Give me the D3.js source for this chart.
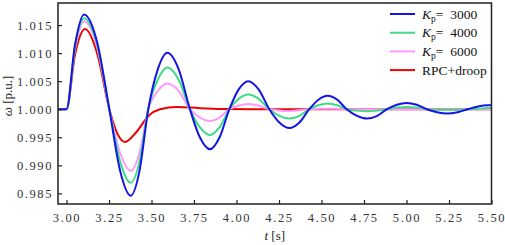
<!DOCTYPE html>
<html><head><meta charset="utf-8">
<script src="https://cdn.jsdelivr.net/npm/d3@7/dist/d3.min.js"></script>
<style>
body{margin:0;background:#fff;}
svg{display:block;}
svg text{font-family:"Liberation Serif","Times New Roman",Times,serif !important;}
</style></head>
<body>
<svg id="c" width="505" height="245"></svg>
<script>
// ---- data ----
const xTicks = [3.00,3.25,3.50,3.75,4.00,4.25,4.50,4.75,5.00,5.25,5.50];
const yTicks = [0.985,0.990,0.995,1.000,1.005,1.010,1.015];

const timeKp = [2.95,3.00,3.05,3.103,3.18,3.252,3.315,3.378,3.43,3.48,3.537,3.593,3.66,3.726,3.785,3.844,3.90,3.958,4.013,4.069,4.13,4.193,4.252,4.311,4.37,4.428,4.482,4.536,4.592,4.648,4.709,4.770,4.828,4.885,4.943,5.001,5.06,5.12,5.18,5.240,5.30,5.36,5.42,5.48,5.50];

const kp3000 = [1.0000,1.0000,1.0115,1.0169,1.0120,1.0000,0.9891,0.9846,0.9891,0.9998,1.0071,1.01005,1.0071,1.0000,0.99495,0.99286,0.99495,1.0000,1.00354,1.0050,1.00354,1.0000,0.99764,0.99666,0.99764,1.0000,1.0017,1.0024,1.0017,1.0000,0.99883,0.99834,0.99883,1.0000,1.0008,1.00113,1.0008,1.0000,0.99946,0.99923,0.99946,1.0000,1.0005,1.0007,1.0007];

const kp4000 = [1.0000,1.0000,1.0111,1.0162,1.0115,1.0000,0.99075,0.98691,0.99075,0.9999,1.00526,1.00744,1.00526,1.0000,0.99675,0.99541,0.99675,1.0000,1.00185,1.00262,1.00185,1.0000,0.99883,0.99834,0.99883,1.0000,1.0007,1.0010,1.0007,1.0000,0.99975,0.99964,0.99975,1.0000,1.0003,1.0004,1.0003,1.0000,0.9999,0.9999,0.9999,1.0000,1.0001,1.0002,1.0002];

const kp6000 = [1.0000,1.0000,1.0107,1.0157,1.0111,1.0000,0.99226,0.98905,0.99226,0.9999,1.00325,1.00459,1.00325,1.0000,0.99852,0.99791,0.99852,1.0000,1.00067,1.00095,1.00067,1.0000,0.99979,0.9997,0.9998,1.0000,1.0001,1.0001,1.0001,1.0000,1.0000,1.0000,1.0000,1.0000,1.0000,1.0000,1.0000,1.0000,1.0000,1.0000,1.0000,1.0000,1.0000,1.0000,1.0000];

const timeRpc = [2.95,3.00,3.05,3.109,3.18,3.252,3.30,3.344,3.41,3.485,3.55,3.65,3.78,3.92,4.10,5.50];
const rpcDroop = [1.0000,1.0000,1.0097,1.01429,1.0100,1.0000,0.9956,0.99416,0.99590,0.99890,1.0000,1.0004,1.0002,1.00005,1.0000,1.0000];

const seriesNames = ["3000","4000","6000","RPC+droop"];
const seriesColors = ["#1414e6","#3ddc84","#ff99ff","#ee0000"];

// ---- chart ----
const svg = d3.select("#c");
const L = 58, R = 491.5, T = 3, B = 204;
const x = d3.scaleLinear().domain([2.95,5.50]).range([L,R]);
const y = d3.scaleLinear().domain([0.98311,1.01893]).range([B,T]);

svg.append("clipPath").attr("id","clp").append("rect")
  .attr("x",L).attr("y",T).attr("width",R-L).attr("height",B-T);

const series = [
  {name:seriesNames[0], color:seriesColors[0], t:timeKp, v:kp3000},
  {name:seriesNames[1], color:seriesColors[1], t:timeKp, v:kp4000},
  {name:seriesNames[2], color:seriesColors[2], t:timeKp, v:kp6000},
  {name:seriesNames[3], color:seriesColors[3], t:timeRpc, v:rpcDroop}
];

const line = d3.line().x(d=>x(d[0])).y(d=>y(d[1])).curve(d3.curveMonotoneX);
const g = svg.append("g").attr("clip-path","url(#clp)");
[3,2,1,0].forEach(i=>{
  const s = series[i];
  const pts = s.t.map((t,k)=>[t,s.v[k]]);
  g.append("path").attr("d",line(pts)).attr("fill","none")
    .attr("stroke",s.color).attr("stroke-width",2);
});

// axes
const xAxis = d3.axisBottom(x).tickValues(xTicks).tickFormat(d3.format(".2f")).tickSizeInner(-4).tickSizeOuter(0).tickPadding(9);
const yAxis = d3.axisLeft(y).tickValues(yTicks).tickFormat(d3.format(".3f")).tickSizeInner(-4).tickSizeOuter(0).tickPadding(5);
const gx = svg.append("g").attr("transform",`translate(0,${B})`).call(xAxis);
const gy = svg.append("g").attr("transform",`translate(${L},0)`).call(yAxis);
[gx,gy].forEach(a=>{
  a.attr("font-family",null);
  a.select(".domain").remove();
  a.selectAll(".tick line").attr("stroke","#222").attr("stroke-width",1.2);
  a.selectAll(".tick text").attr("fill","#333").style("font-size","12.5px").style("letter-spacing","1.6px");
});
svg.append("rect").attr("x",L).attr("y",T).attr("width",R-L).attr("height",B-T)
  .attr("fill","none").attr("stroke","#222").attr("stroke-width",1.5);

// axis labels
const xl = svg.append("text").attr("x",(L+R)/2).attr("y",240).attr("text-anchor","middle")
  .style("font-size","13px").attr("fill","#222");
xl.append("tspan").style("font-style","italic").text("t");
xl.append("tspan").text(" [s]");
const yl = svg.append("text").attr("transform","translate(12,96) rotate(-90)").attr("text-anchor","middle")
  .style("font-size","13px").attr("fill","#222");
yl.append("tspan").style("font-style","italic").text("ω");
yl.append("tspan").text(" [p.u.]");

// legend
const lg = svg.append("g");
series.forEach((s,i)=>{
  const yy = 14 + i*18.7;
  lg.append("line").attr("x1",390).attr("x2",415).attr("y1",yy).attr("y2",yy)
    .attr("stroke",s.color).attr("stroke-width",2);
  const tx = lg.append("text").attr("x",422).attr("y",yy+4.5).style("font-size","13.5px").attr("fill","#111");
  if(i<3){
    tx.append("tspan").style("font-style","italic").text("K");
    tx.append("tspan").attr("dy",3).style("font-size","9.5px").text("p");
    tx.append("tspan").attr("dy",-3).text("=\u00a0 "+s.name);
  } else {
    tx.text(s.name);
  }
});
</script>
</body></html>
